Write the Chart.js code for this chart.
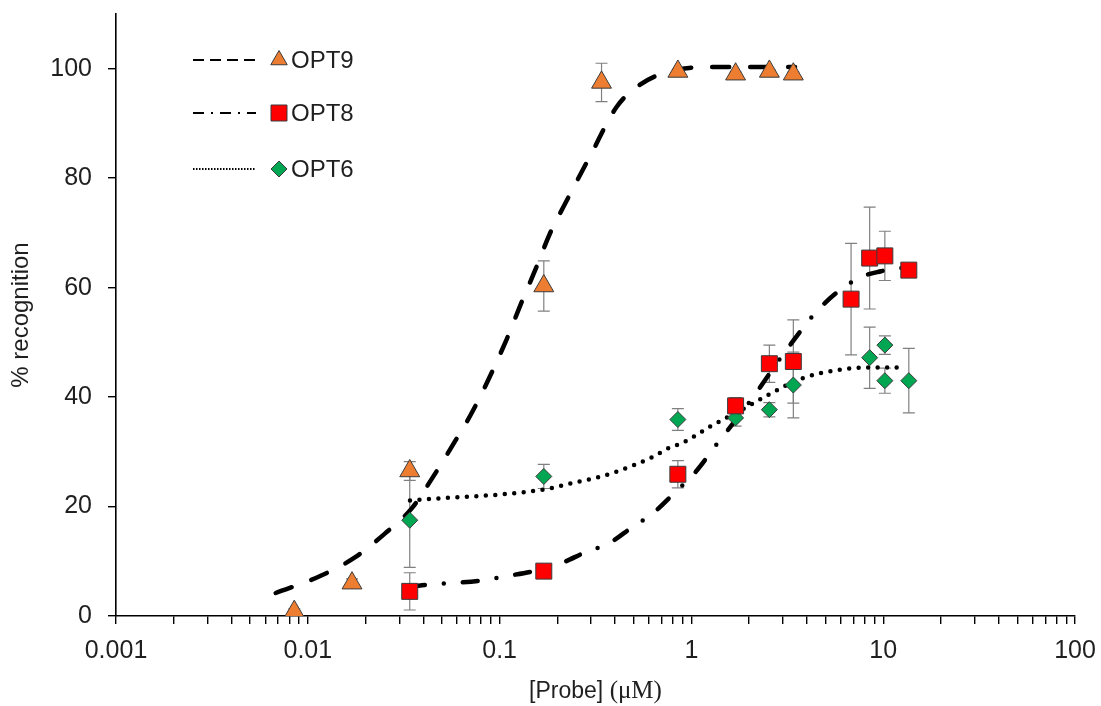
<!DOCTYPE html>
<html>
<head>
<meta charset="utf-8">
<title>% recognition vs [Probe]</title>
<script src="https://cdn.jsdelivr.net/npm/chart.js@4.4.1/dist/chart.umd.min.js"></script>
<style>
  html, body { margin: 0; padding: 0; background: #fff; }
  #wrap { width: 1101px; height: 706px; }
</style>
</head>
<body>
<div id="wrap"><canvas id="recChart" width="1101" height="706"></canvas></div>
<script>
// measured points (concentration in uM, % recognition, +/- error)
const opt9X = [0.0085, 0.017, 0.034, 0.17, 0.34, 0.85, 1.7, 2.55, 3.4];
const opt9Y = [0.8, 6.0, 26.5, 60.3, 97.5, 99.5, 99.0, 99.5, 99.0];
const opt9Err = [0.5, 0.8, 1.7, 4.6, 3.5, 0.4, 0.4, 0.4, 0.4];

const opt8X = [0.034, 0.17, 0.85, 1.7, 2.55, 3.4, 6.8, 8.5, 10.2, 13.6];
const opt8Y = [4.5, 8.2, 25.9, 38.4, 46.1, 46.5, 57.9, 65.4, 65.8, 63.2];
const opt8Err = [3.4, 0.5, 2.5, 1.5, 3.4, 7.6, 10.2, 9.3, 4.5, 0.4];

const opt6X = [0.034, 0.17, 0.85, 1.7, 2.55, 3.4, 8.5, 10.2, 10.2, 13.6];
const opt6Y = [17.5, 25.5, 35.9, 36.2, 37.7, 42.2, 47.2, 49.5, 43.0, 43.0];
const opt6Err = [8.6, 2.2, 2.0, 1.5, 1.3, 6.0, 5.6, 1.7, 2.3, 5.9];

// fitted curves
const fit9X = [0.0068, 0.0116, 0.0176, 0.0253, 0.0349, 0.0455, 0.0585, 0.0736, 0.109, 0.129, 0.155, 0.183, 0.217, 0.296, 0.409, 0.54, 0.783, 1.28, 3.47];
const fit9Y = [4.2, 7.3, 10.7, 15.1, 19.7, 25.7, 31.9, 37.9, 50.6, 57.0, 63.6, 69.9, 75.0, 84.0, 93.1, 97.1, 99.6, 100.3, 100.3];

const fit8X = [0.0341, 0.0394, 0.0544, 0.0771, 0.109, 0.151, 0.211, 0.282, 0.372, 0.49, 0.631, 0.821, 1.056, 1.33, 2.02, 3.11, 4.68, 7.3, 9.75, 12.5];
const fit8Y = [5.3, 5.6, 6.0, 6.4, 7.3, 8.2, 9.7, 11.7, 13.3, 16.2, 18.8, 22.6, 26.4, 31.0, 39.2, 48.5, 56.3, 61.6, 63.0, 63.6];

const fit6X = [0.0341, 0.0489, 0.1, 0.183, 0.233, 0.322, 0.409, 0.623, 0.773, 0.883, 1.11, 1.25, 1.79, 2.48, 3.77, 5.96, 8.54, 12.7];
const fit6Y = [21.1, 21.5, 22.2, 23.3, 24.2, 25.3, 26.4, 29.0, 30.8, 31.5, 33.5, 34.6, 37.5, 40.3, 43.4, 45.0, 45.4, 45.4];

// axes
const xDecades = [0.001, 0.01, 0.1, 1, 10, 100];
const xTickLabels = ["0.001", "0.01", "0.1", "1", "10", "100"];
const yTicks = [0, 20, 40, 60, 80, 100];

const seriesNames = ["OPT9", "OPT8", "OPT6"];

const ORANGE = "#ED7D31";
const RED = "#FF0000";
const GREEN = "#00A651";
const EDGE = "#3b3b3b";
const TXT = "#1f1f1f";
const SANS = "'Liberation Sans', Arial, sans-serif";

function pts(xs, ys) {
  return xs.map((x, i) => ({ x: x, y: ys[i] }));
}

const errorBars = {
  id: "errorBars",
  beforeDatasetsDraw(chart) {
    const ctx = chart.ctx;
    const xs = chart.scales.x;
    const ys = chart.scales.y;
    ctx.save();
    ctx.strokeStyle = "#808080";
    ctx.lineWidth = 1.2;
    chart.data.datasets.forEach(ds => {
      if (!ds.errors) return;
      ds.data.forEach((p, i) => {
        const e = ds.errors[i];
        const px = xs.getPixelForValue(p.x);
        const top = ys.getPixelForValue(p.y + e);
        const bot = ys.getPixelForValue(p.y - e);
        ctx.beginPath();
        ctx.moveTo(px, top); ctx.lineTo(px, bot);
        ctx.moveTo(px - 6, top); ctx.lineTo(px + 6, top);
        ctx.moveTo(px - 6, bot); ctx.lineTo(px + 6, bot);
        ctx.stroke();
      });
    });
    ctx.restore();
  }
};

const legendAndTitles = {
  id: "legendAndTitles",
  afterDraw(chart) {
    const ctx = chart.ctx;
    const a = chart.chartArea;
    const entries = [
      { dash: [11, 6], style: "triangle", r: 9.5, fill: ORANGE, dy: 46 },
      { dash: [11, 7, 2, 7], style: "rect", r: 11.3, fill: RED, dy: 99 },
      { dash: [1.5, 1.5], style: "rectRot", r: 8, fill: GREEN, dy: 155 }
    ];
    ctx.save();
    entries.forEach((en, i) => {
      const y = a.top + en.dy;
      ctx.beginPath();
      ctx.setLineDash(en.dash);
      ctx.lineWidth = 2;
      ctx.strokeStyle = "#000";
      ctx.moveTo(a.left + 77, y);
      ctx.lineTo(a.left + 140, y);
      ctx.stroke();
      ctx.setLineDash([]);
      ctx.fillStyle = en.fill;
      ctx.strokeStyle = EDGE;
      ctx.lineWidth = 1;
      Chart.helpers.drawPoint(ctx, { pointStyle: en.style, radius: en.r, rotation: 0, borderWidth: 1 }, a.left + 163, y);
      ctx.fillStyle = TXT;
      ctx.font = "24px " + SANS;
      ctx.textBaseline = "middle";
      ctx.textAlign = "left";
      ctx.fillText(seriesNames[i], a.left + 175, y + 1);
    });

    // y title
    ctx.save();
    ctx.translate(21, (a.top + a.bottom) / 2);
    ctx.rotate(-Math.PI / 2);
    ctx.font = "24px " + SANS;
    ctx.textAlign = "center";
    ctx.textBaseline = "middle";
    ctx.fillStyle = TXT;
    ctx.fillText("% recognition", 0, 0);
    ctx.restore();

    // x title, mixed fonts
    const part1 = "[Probe] ";
    const part2 = "(\u03BCM)";
    ctx.font = "23px " + SANS;
    const w1 = ctx.measureText(part1).width;
    ctx.font = "25px 'Liberation Serif', 'Times New Roman', serif";
    const w2 = ctx.measureText(part2).width;
    let x0 = (a.left + a.right) / 2 - (w1 + w2) / 2;
    ctx.textBaseline = "alphabetic";
    ctx.textAlign = "left";
    ctx.fillStyle = TXT;
    ctx.font = "23px " + SANS;
    ctx.fillText(part1, x0, 698);
    ctx.font = "25px 'Liberation Serif', 'Times New Roman', serif";
    ctx.fillText(part2, x0 + w1, 698);
    ctx.restore();
  }
};

const curveStyle = {
  showLine: true,
  pointRadius: 0,
  pointHoverRadius: 0,
  borderColor: "#000",
  borderWidth: 4.5,
  borderCapStyle: "round",
  cubicInterpolationMode: "monotone",
  fill: false,
  order: 2
};

const ctx = document.getElementById("recChart").getContext("2d");

const recChart = new Chart(ctx, {
  type: "scatter",
  data: {
    datasets: [
      Object.assign({ label: "fit OPT9", data: pts(fit9X, fit9Y), borderDash: [17, 21] }, curveStyle),
      Object.assign({ label: "fit OPT8", data: pts(fit8X, fit8Y), borderDash: [15, 19, 0, 19] }, curveStyle),
      Object.assign({ label: "fit OPT6", data: pts(fit6X, fit6Y), borderDash: [0, 9.5] }, curveStyle),
      {
        label: "OPT9",
        data: pts(opt9X, opt9Y),
        errors: opt9Err,
        pointStyle: "triangle",
        pointRadius: 11.5,
        backgroundColor: ORANGE,
        borderColor: EDGE,
        borderWidth: 1,
        order: 1
      },
      {
        label: "OPT8",
        data: pts(opt8X, opt8Y),
        errors: opt8Err,
        pointStyle: "rect",
        pointRadius: 11.3,
        backgroundColor: RED,
        borderColor: EDGE,
        borderWidth: 1,
        order: 1
      },
      {
        label: "OPT6",
        data: pts(opt6X, opt6Y),
        errors: opt6Err,
        pointStyle: "rectRot",
        pointRadius: 8,
        backgroundColor: GREEN,
        borderColor: EDGE,
        borderWidth: 1,
        order: 1
      }
    ]
  },
  options: {
    responsive: false,
    animation: false,
    layout: { padding: { top: 14, right: 26, left: 0, bottom: 0 } },
    plugins: {
      legend: { display: false },
      tooltip: { enabled: false },
      title: { display: false }
    },
    scales: {
      x: {
        type: "logarithmic",
        position: "bottom",
        min: 0.001,
        max: 100,
        afterBuildTicks(scale) {
          const t = [];
          xDecades.forEach((d, i) => {
            const n = i < xDecades.length - 1 ? 9 : 1;
            for (let k = 1; k <= n; k++) t.push({ value: d * k, major: k === 1 });
          });
          scale.ticks = t;
        },
        afterFit(scale) {
          scale.height = 90;
          scale.paddingLeft = 0;
          scale.paddingRight = 0;
        },
        grid: {
          display: true,
          drawOnChartArea: false,
          drawTicks: true,
          tickLength: 8,
          color: "#000",
          lineWidth: 1.4
        },
        border: { display: true, color: "#000", width: 1.6 },
        ticks: {
          autoSkip: false,
          maxRotation: 0,
          minRotation: 0,
          padding: 12,
          color: TXT,
          font: { family: SANS, size: 25 },
          callback(value) {
            const i = xDecades.findIndex(d => Math.abs(d - value) < d * 1e-6);
            return i >= 0 ? xTickLabels[i] : "";
          }
        }
      },
      y: {
        type: "linear",
        min: 0,
        max: 110,
        afterBuildTicks(scale) {
          scale.ticks = yTicks.map(v => ({ value: v }));
        },
        afterFit(scale) {
          scale.width = 116;
          scale.paddingTop = 0;
          scale.paddingBottom = 0;
        },
        grid: {
          display: true,
          drawOnChartArea: false,
          drawTicks: true,
          tickLength: 8,
          color: "#000",
          lineWidth: 1.4
        },
        border: { display: true, color: "#000", width: 1.6 },
        ticks: {
          padding: 16,
          color: TXT,
          font: { family: SANS, size: 25 }
        }
      }
    }
  },
  plugins: [errorBars, legendAndTitles]
});
</script>
</body>
</html>
